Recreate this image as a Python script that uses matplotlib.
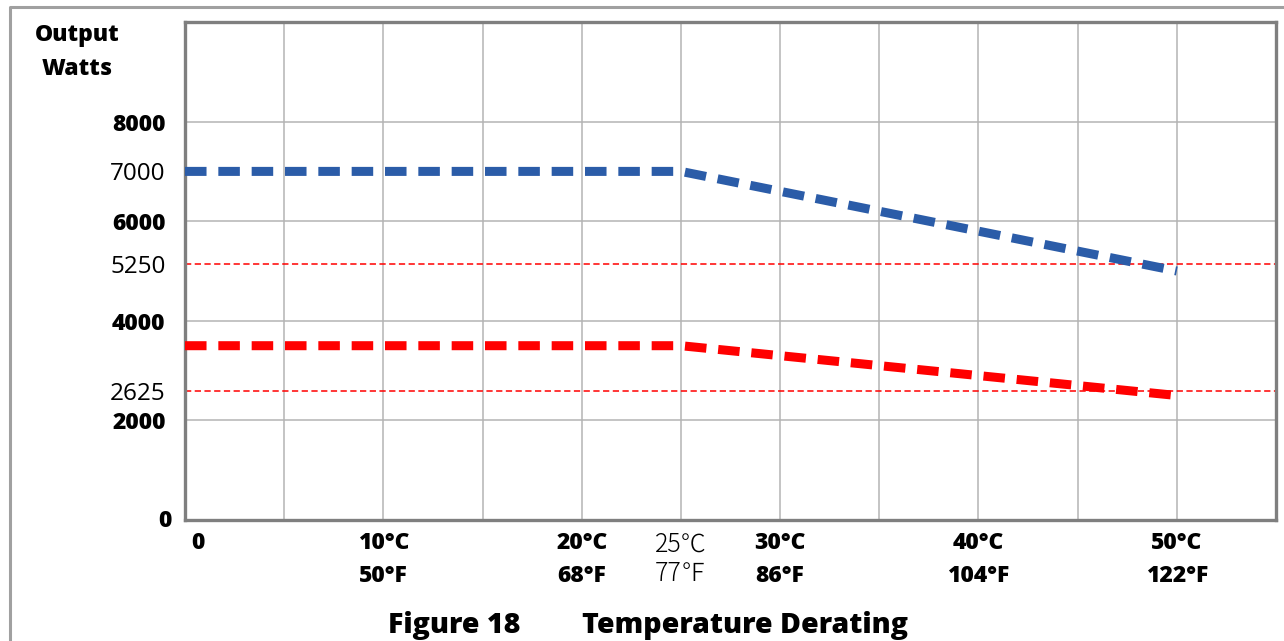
import matplotlib
matplotlib.use("Agg")
import matplotlib.pyplot as plt
from matplotlib.lines import Line2D
import matplotlib.transforms as mtransforms

plt.rcParams['lines.scale_dashes'] = False

# ---- data ----
temp_c = [0, 25, 30, 35, 40, 45, 50]
watts_high = [7000, 7000, 6600, 6200, 5800, 5400, 5000]
watts_low = [3500, 3500, 3300, 3100, 2900, 2700, 2500]

ref_positions = [5140, 2600]
ref_labels = ["5250", "2625"]

grid_x = [5, 10, 15, 20, 25, 30, 35, 40, 45, 50]
grid_y = [2000, 4000, 6000, 8000]

ytick_bold = [0, 2000, 4000, 6000, 8000]
ytick_plain = [7000]
xtick_vals = [0, 10, 20, 25, 30, 40, 50]
xtick_labels = ["0", "10°C\n50°F", "20°C\n68°F", "25℃\n77℉", "30°C\n86°F", "40°C\n104°F", "50°C\n122°F"]
xtick_plain = [25]

W, H = 1284, 641
fig = plt.figure(figsize=(W / 100, H / 100), dpi=100)
fig.patch.set_facecolor("white")

L, R, B, T = 185, 1276, 520, 22
ax = fig.add_axes([L / W, 1 - B / H, (R - L) / W, (B - T) / H])
ax.set_xlim(0, 55)
ax.set_ylim(0, 10000)
ax.tick_params(which='both', length=0)

# grid
for gx in grid_x:
    ax.axvline(gx, color='#b4b4b4', linewidth=1.1, zorder=1)
for gy in grid_y:
    ax.axhline(gy, color='#b4b4b4', linewidth=1.1, zorder=1)

for s in ax.spines.values():
    s.set_color('#7f7f7f')
    s.set_linewidth(2.4)

# reference lines
for yv in ref_positions:
    ax.axhline(yv, color='#ff0000', linewidth=1.1, dashes=(4.5, 2.5), zorder=2)

# data lines
ax.plot(temp_c, watts_high, color='#2b5ca8', linewidth=6.5, dashes=(15.5, 8.5),
        dash_capstyle='butt', solid_capstyle='butt', zorder=3)
ax.plot(temp_c, watts_low, color='#ff0000', linewidth=6.5, dashes=(15.5, 8.5),
        dash_capstyle='butt', solid_capstyle='butt', zorder=3)

bold_font = ['Open Sans', 'DejaVu Sans']
plain_font = ['Open Sans', 'DejaVu Sans']
BW = 800

# y tick labels
yt = ytick_bold + ytick_plain + ref_positions
ylab = [str(v) for v in ytick_bold] + [str(v) for v in ytick_plain] + ref_labels
ax.set_yticks(yt)
ax.set_yticklabels(ylab)
ax.tick_params(axis='y', pad=14)
for lab, v in zip(ax.get_yticklabels(), yt):
    if v in ytick_bold:
        lab.set_fontfamily(bold_font)
        lab.set_fontweight(BW)
        lab.set_fontsize(16.5)
    else:
        lab.set_fontfamily(plain_font)
        lab.set_fontweight('normal')
        lab.set_fontsize(17.5)
    if v == 0:
        lab.set_transform(lab.get_transform() + mtransforms.ScaledTranslation(6 / 100, 2 / 100, fig.dpi_scale_trans))

# x tick labels
ax.set_xticks(xtick_vals)
ax.set_xticklabels(xtick_labels)
ax.tick_params(axis='x', pad=8)
for lab, v in zip(ax.get_xticklabels(), xtick_vals):
    if v in xtick_plain:
        lab.set_fontfamily(['Noto Sans CJK JP', 'DejaVu Sans'])
        lab.set_fontweight('light')
        lab.set_fontsize(18)
        lab.set_linespacing(1.15)
    else:
        lab.set_fontfamily(bold_font)
        lab.set_fontweight(BW)
        lab.set_fontsize(16.5)
        lab.set_linespacing(1.5)
    if v == 0:
        lab.set_transform(lab.get_transform() + mtransforms.ScaledTranslation(13 / 100, 0, fig.dpi_scale_trans))

# axis title
fig.text(77 / W, 1 - 52 / H, "Output\nWatts", ha='center', va='center',
         fontfamily=bold_font, fontweight=BW, fontsize=16.5, linespacing=1.55)

# figure caption
fig.text(388 / W, 1 - 626 / H, "Figure 18", ha='left', va='center',
         fontfamily=bold_font, fontweight=BW, fontsize=20.5)
fig.text(582 / W, 1 - 626 / H, "Temperature Derating", ha='left', va='center',
         fontfamily=bold_font, fontweight=BW, fontsize=20.5)

# outer border
fig.add_artist(Line2D([10 / W, 10 / W, 1.0], [0, 1 - 7 / H, 1 - 7 / H],
                      transform=fig.transFigure, color='#a0a0a0', linewidth=2.2))

fig.savefig("out.png", dpi=100)
